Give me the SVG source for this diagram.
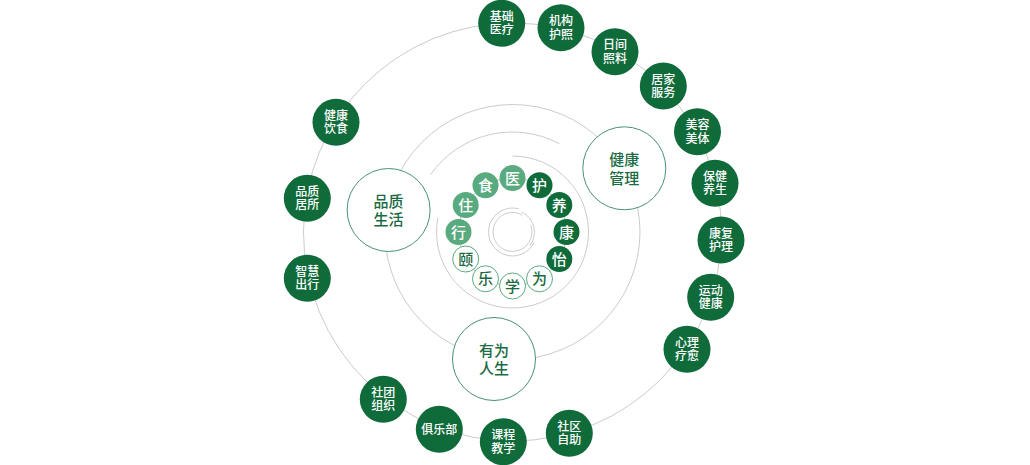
<svg xmlns="http://www.w3.org/2000/svg" width="1030" height="465" viewBox="0 0 1030 465">
<style>
.arc{fill:none;stroke:#cccccc;stroke-width:1}
.ring{fill:none;stroke:#a9cdb8;stroke-width:1}
.on circle{fill:#0f6b3a}
.on text{fill:#ffffff;font-family:"Liberation Sans","Noto Sans CJK SC",sans-serif;font-size:12px;font-weight:500;text-anchor:middle}
.big circle{fill:#ffffff;stroke:#4a9272;stroke-width:1}
.big text{fill:#1a6a42;font-family:"Liberation Sans","Noto Sans CJK SC",sans-serif;font-size:15px;font-weight:500;text-anchor:middle}
.sm text{font-family:"Liberation Sans","Noto Sans CJK SC",sans-serif;font-size:15px;font-weight:500;text-anchor:middle;dominant-baseline:central}
.lg circle{fill:#5aaa80}
.lg text{fill:#ffffff}
.dg circle{fill:#0f6b3a}
.dg text{fill:#ffffff}
.wg circle{fill:#ffffff;stroke:#5aaa80;stroke-width:1}
.wg text{fill:#1a6a42}
</style>
<rect width="1030" height="465" fill="#ffffff"/>
<g id="connectors">
<circle class="arc" cx="512.5" cy="232" r="209"/>
<circle class="arc" cx="512.5" cy="232" r="127.5"/>
<path class="arc" d="M430.6,174.6 A100,100 0 0 1 559.4,143.7"/>
<path class="arc" d="M512.5,156 A76,76 0 1 1 437.9,217.5"/>
<path class="arc" d="M518.7,208.8 A24,24 0 1 0 534.3,242.1"/>
<path class="arc" d="M522.3,215.1 A19.5,19.5 0 1 0 530.8,225.3"/>
<path class="arc" d="M521.8,212.1 A22,22 0 0 1 529.4,246.1"/>
<circle class="ring" cx="512.5" cy="232" r="54"/>
</g>
<g id="n-jcyl" class="on"><circle cx="501.7" cy="23.3" r="23.5"/><text x="501.7" y="20.8">基础<tspan x="501.7" dy="13.5">医疗</tspan></text></g>
<g id="n-jghz" class="on"><circle cx="561" cy="27.7" r="23.5"/><text x="561" y="25.2">机构<tspan x="561" dy="13.5">护照</tspan></text></g>
<g id="n-rjzl" class="on"><circle cx="615" cy="51.7" r="23.5"/><text x="615" y="49.2">日间<tspan x="615" dy="13.5">照料</tspan></text></g>
<g id="n-jjfw" class="on"><circle cx="663.3" cy="86" r="23.5"/><text x="663.3" y="83.5">居家<tspan x="663.3" dy="13.5">服务</tspan></text></g>
<g id="n-mrmt" class="on"><circle cx="697.5" cy="131.7" r="23.5"/><text x="697.5" y="129.2">美容<tspan x="697.5" dy="13.5">美体</tspan></text></g>
<g id="n-bjys" class="on"><circle cx="715" cy="183.3" r="23.5"/><text x="715" y="180.8">保健<tspan x="715" dy="13.5">养生</tspan></text></g>
<g id="n-kfhl" class="on"><circle cx="721" cy="240" r="23.5"/><text x="721" y="237.5">康复<tspan x="721" dy="13.5">护理</tspan></text></g>
<g id="n-ydjk" class="on"><circle cx="710.7" cy="297.3" r="23.5"/><text x="710.7" y="294.8">运动<tspan x="710.7" dy="13.5">健康</tspan></text></g>
<g id="n-xlly" class="on"><circle cx="687" cy="349.3" r="23.5"/><text x="687" y="346.8">心理<tspan x="687" dy="13.5">疗愈</tspan></text></g>
<g id="n-sqzz" class="on"><circle cx="569.3" cy="433.3" r="23.5"/><text x="569.3" y="430.8">社区<tspan x="569.3" dy="13.5">自助</tspan></text></g>
<g id="n-kcjx" class="on"><circle cx="503.3" cy="441.7" r="23.5"/><text x="503.3" y="439.2">课程<tspan x="503.3" dy="13.5">教学</tspan></text></g>
<g id="n-jlb" class="on"><circle cx="439.3" cy="429.3" r="23.5"/><text x="439.3" y="433.6">俱乐部</text></g>
<g id="n-sttz" class="on"><circle cx="383.3" cy="399.3" r="23.5"/><text x="383.3" y="396.8">社团<tspan x="383.3" dy="13.5">组织</tspan></text></g>
<g id="n-zhcx" class="on"><circle cx="307.3" cy="278.3" r="23.5"/><text x="307.3" y="275.8">智慧<tspan x="307.3" dy="13.5">出行</tspan></text></g>
<g id="n-pzjs" class="on"><circle cx="307.3" cy="198.3" r="23.5"/><text x="307.3" y="195.8">品质<tspan x="307.3" dy="13.5">居所</tspan></text></g>
<g id="n-jkys" class="on"><circle cx="336" cy="122.3" r="23.5"/><text x="336" y="119.8">健康<tspan x="336" dy="13.5">饮食</tspan></text></g>
<g id="n-jkgl" class="big"><circle cx="624.3" cy="168.3" r="41.5"/><text x="624.3" y="165">健康<tspan x="624.3" dy="18.5">管理</tspan></text></g>
<g id="n-pzsh" class="big"><circle cx="388.6" cy="210" r="41.5"/><text x="388.6" y="206.5">品质<tspan x="388.6" dy="18.5">生活</tspan></text></g>
<g id="n-ywrs" class="big"><circle cx="494" cy="359" r="41.5"/><text x="494" y="355.5">有为<tspan x="494" dy="18.5">人生</tspan></text></g>
<g id="c-yi" class="sm lg"><circle cx="512.5" cy="178" r="13"/><text x="512.5" y="178">医</text></g>
<g id="c-hu" class="sm dg"><circle cx="539.5" cy="185.2" r="13"/><text x="539.5" y="185.2">护</text></g>
<g id="c-yang" class="sm dg"><circle cx="559.3" cy="205" r="13"/><text x="559.3" y="205">养</text></g>
<g id="c-kang" class="sm dg"><circle cx="566.5" cy="232" r="13"/><text x="566.5" y="232">康</text></g>
<g id="c-yi2" class="sm dg"><circle cx="559.3" cy="259" r="13"/><text x="559.3" y="259">怡</text></g>
<g id="c-wei" class="sm wg"><circle cx="539.5" cy="278.8" r="13"/><text x="539.5" y="278.8">为</text></g>
<g id="c-xue" class="sm wg"><circle cx="512.5" cy="286" r="13"/><text x="512.5" y="286">学</text></g>
<g id="c-le" class="sm wg"><circle cx="485.5" cy="278.8" r="13"/><text x="485.5" y="278.8">乐</text></g>
<g id="c-yi3" class="sm wg"><circle cx="465.7" cy="259" r="13"/><text x="465.7" y="259">颐</text></g>
<g id="c-xing" class="sm lg"><circle cx="458.5" cy="232" r="13"/><text x="458.5" y="232">行</text></g>
<g id="c-zhu" class="sm lg"><circle cx="465.7" cy="205" r="13"/><text x="465.7" y="205">住</text></g>
<g id="c-shi" class="sm lg"><circle cx="485.5" cy="185.2" r="13"/><text x="485.5" y="185.2">食</text></g>
</svg>
